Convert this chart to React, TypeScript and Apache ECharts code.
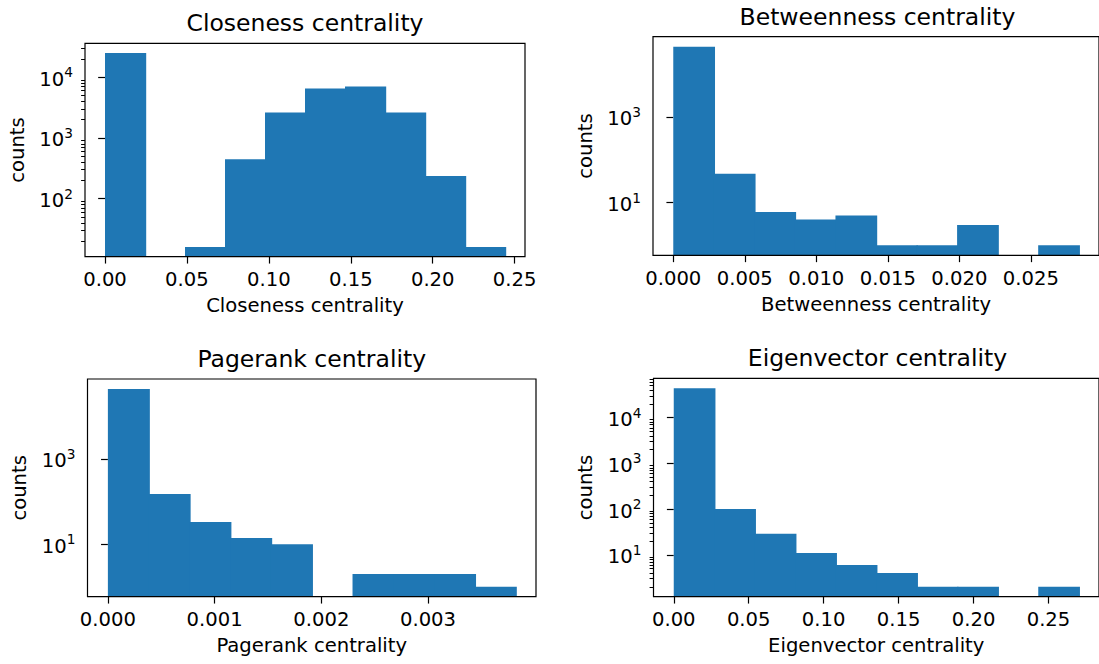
import React, { useEffect, useRef } from 'react';
import * as echarts from 'echarts';

// ---- data ----
const titles = ['Closeness centrality', 'Betweenness centrality', 'Pagerank centrality', 'Eigenvector centrality'];

const closenessCounts = [25000, 0, 16, 445, 2630, 6500, 7000, 2630, 236, 16];
const closenessRange = [0, 0.2441];
const closenessXTicks = [0, 0.05, 0.1, 0.15, 0.2, 0.25];
const closenessYTicks = [100, 1000, 10000];

const betweennessCounts = [43600, 47, 6, 4, 5, 1, 1, 3, 0, 1];
const betweennessRange = [0, 0.02835];
const betweennessXTicks = [0, 0.005, 0.01, 0.015, 0.02, 0.025];
const betweennessYTicks = [10, 1000];

const pagerankCounts = [44000, 150, 33, 14, 10, 0, 2, 2, 2, 1];
const pagerankRange = [0, 0.003821];
const pagerankXTicks = [0, 0.001, 0.002, 0.003];
const pagerankYTicks = [10, 1000];

const eigenvectorCounts = [44000, 100, 29, 11, 6, 4, 2, 2, 0, 2];
const eigenvectorRange = [0, 0.2702];
const eigenvectorXTicks = [0, 0.05, 0.1, 0.15, 0.2, 0.25];
const eigenvectorYTicks = [10, 100, 1000, 10000];

// ---- layout / style ----
const FONT = 'DejaVu Sans';
const BLUE = '#1f77b4';
const TICK_FS = 19.6;
const TITLE_FS = 23.5;
const layout = [
  { left: 85, top: 43.3, width: 440, height: 213.4, dec: 2, minor: true },
  { left: 653, top: 36.7, width: 449, height: 218.6, dec: 3, minor: false },
  { left: 87.5, top: 379, width: 448.5, height: 217.7, dec: 3, minor: false },
  { left: 653.5, top: 378.3, width: 448, height: 218.4, dec: 2, minor: true },
];

const panels = [
  { counts: closenessCounts, range: closenessRange, xticks: closenessXTicks, yticks: closenessYTicks },
  { counts: betweennessCounts, range: betweennessRange, xticks: betweennessXTicks, yticks: betweennessYTicks },
  { counts: pagerankCounts, range: pagerankRange, xticks: pagerankXTicks, yticks: pagerankYTicks },
  { counts: eigenvectorCounts, range: eigenvectorRange, xticks: eigenvectorXTicks, yticks: eigenvectorYTicks },
];

function buildOption() {
  const grid: any[] = [];
  const xAxis: any[] = [];
  const yAxis: any[] = [];
  const series: any[] = [];
  const graphic: any[] = [];

  panels.forEach((p, i) => {
    const L = layout[i];
    const n = p.counts.length;
    const w = (p.range[1] - p.range[0]) / n;
    const xspan = p.range[1] - p.range[0];
    const xmin = p.range[0] - 0.05 * xspan;
    const xmax = p.range[1] + 0.05 * xspan;
    const pos = p.counts.filter((c) => c > 0);
    const lmin = Math.log10(Math.min(...pos));
    const lmax = Math.log10(Math.max(...pos));
    const lspan = lmax - lmin;
    const ymin = Math.pow(10, lmin - 0.05 * lspan);
    const ymax = Math.pow(10, lmax + 0.05 * lspan);

    const minorTicks: number[] = [];
    if (L.minor) {
      for (let k = Math.floor(Math.log10(ymin)); k <= Math.ceil(Math.log10(ymax)); k++) {
        for (let m = 2; m <= 9; m++) {
          const v = m * Math.pow(10, k);
          if (v > ymin && v < ymax) minorTicks.push(v);
        }
      }
    }

    grid.push({
      left: L.left, top: L.top, width: L.width, height: L.height,
      show: true, borderColor: '#000', borderWidth: 1.2, backgroundColor: 'transparent', z: 5,
    });

    xAxis.push({
      type: 'value', gridIndex: i, min: xmin, max: xmax,
      splitLine: { show: false },
      axisLine: { show: false, onZero: false },
      axisTick: { show: true, length: 6.85, lineStyle: { color: '#000', width: 1.2 }, customValues: p.xticks },
      axisLabel: {
        customValues: p.xticks,
        formatter: (v: number) => v.toFixed(L.dec),
        color: '#000', fontSize: TICK_FS, fontFamily: FONT, margin: 13,
      },
      name: titles[i], nameLocation: 'middle', nameGap: 39,
      nameTextStyle: { color: '#000', fontSize: TICK_FS, fontFamily: FONT },
    });

    yAxis.push({
      type: 'log', logBase: 10, gridIndex: i, min: ymin, max: ymax,
      splitLine: { show: false },
      axisLine: { show: false },
      axisTick: { show: true, length: 6.85, lineStyle: { color: '#000', width: 1.2 }, customValues: p.yticks },
      axisLabel: {
        customValues: p.yticks,
        formatter: (v: number) => '{b|10}{s|' + Math.round(Math.log10(v)) + '}',
        margin: 12,
        rich: {
          b: { fontSize: TICK_FS, fontFamily: FONT, color: '#000', lineHeight: 24, verticalAlign: 'bottom' },
          s: { fontSize: 13.7, fontFamily: FONT, color: '#000', lineHeight: 14, verticalAlign: 'top' },
        },
      },
      name: 'counts', nameLocation: 'middle', nameGap: 58, nameRotate: 90,
      nameTextStyle: { color: '#000', fontSize: TICK_FS, fontFamily: FONT },
    });
    yAxis.push({
      type: 'log', logBase: 10, gridIndex: i, min: ymin, max: ymax, position: 'left',
      splitLine: { show: false },
      axisLine: { show: false },
      axisLabel: { show: false },
      axisTick: {
        show: L.minor, length: 3.9, lineStyle: { color: '#000', width: 1 },
        customValues: L.minor ? minorTicks : [ymin],
      },
    });

    const data = p.counts
      .map((c, j) => [p.range[0] + j * w, p.range[0] + (j + 1) * w, c])
      .filter((d) => d[2] > 0);

    series.push({
      type: 'custom', xAxisIndex: i, yAxisIndex: 2 * i, clip: true,
      encode: { x: [0, 1], y: 2 },
      data,
      renderItem: (params: any, api: any) => {
        const p0 = api.coord([api.value(0), api.value(2)]);
        const p1 = api.coord([api.value(1), ymin]);
        return {
          type: 'rect',
          shape: { x: p0[0], y: p0[1], width: p1[0] - p0[0] + 1.2, height: p1[1] - p0[1] },
          style: { fill: BLUE },
        };
      },
    });

    graphic.push({
      type: 'text', x: L.left + L.width / 2, y: L.top - 20,
      style: { text: titles[i], fontSize: TITLE_FS, fontFamily: FONT, fill: '#000', align: 'center', verticalAlign: 'middle' },
    });
  });

  return { animation: false, backgroundColor: '#fff', grid, xAxis, yAxis, series, graphic };
}

export default function App() {
  const ref = useRef<HTMLDivElement>(null);
  useEffect(() => {
    if (!ref.current) return;
    const chart = echarts.init(ref.current, undefined, { renderer: 'svg' });
    chart.setOption(buildOption() as any);
    return () => chart.dispose();
  }, []);
  return (
    <div
      ref={ref}
      style={{ position: 'fixed', left: 0, top: 0, width: 1099, height: 664, background: '#fff' }}
    />
  );
}
